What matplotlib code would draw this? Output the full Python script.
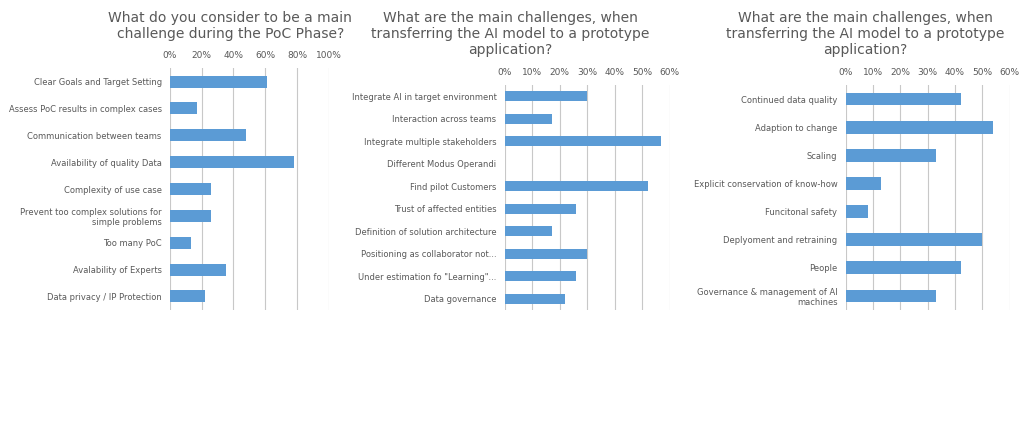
import matplotlib.pyplot as plt
import numpy as np

# Chart 1: PoC phase challenges
poc_labels = ['Clear Goals and Target Setting', 'Assess PoC results in complex cases',
              'Communication between teams', 'Availability of quality Data',
              'Complexity of use case', 'Prevent too complex solutions for\nsimple problems',
              'Too many PoC', 'Avalability of Experts', 'Data privacy / IP Protection']
poc_values = [61, 17, 48, 78, 26, 26, 13, 35, 22]

# Chart 2: transfer challenges
transfer_labels = ['Integrate AI in target environment', 'Interaction across teams',
                   'Integrate multiple stakeholders', 'Different Modus Operandi',
                   'Find pilot Customers', 'Trust of affected entities',
                   'Definition of solution architecture', 'Positioning as collaborator not...',
                   'Under estimation fo "Learning"...', 'Data governance']
transfer_values = [30, 17, 57, 0, 52, 26, 17, 30, 26, 22]

# Chart 3: prototype challenges
proto_labels = ['Continued data quality', 'Adaption to change', 'Scaling',
                'Explicit conservation of know-how', 'Funcitonal safety',
                'Deplyoment and retraining', 'People',
                'Governance & management of AI\nmachines']
proto_values = [42, 54, 33, 13, 8, 50, 42, 33]

titles = ['What do you consider to be a main\nchallenge during the PoC Phase?',
          'What are the main challenges, when\ntransferring the AI model to a prototype\napplication?',
          'What are the main challenges, when\ntransferring the AI model to a prototype\napplication?']

fig = plt.figure(figsize=(10.24, 4.34), dpi=100)
txt = '#595959'
bar_color = '#5b9bd5'

panels = [
    (poc_labels, poc_values, [0.166, 0.286, 0.155, 0.557], 100, 20),
    (transfer_labels, transfer_values, [0.493, 0.286, 0.161, 0.518], 60, 10),
    (proto_labels, proto_values, [0.826, 0.286, 0.160, 0.518], 60, 10),
]
title_x = [0.225, 0.498, 0.845]

for (labels, values, rect, xmax, step), title, tx in zip(panels, titles, title_x):
    ax = fig.add_axes(rect)
    y = np.arange(len(labels))
    ax.barh(y, values, height=0.45, color=bar_color)
    ax.set_yticks(y)
    ax.set_yticklabels(labels, fontsize=6, color=txt)
    ax.set_ylim(len(labels) - 0.5, -0.5)
    ax.set_xlim(0, xmax)
    ticks = np.arange(0, xmax + 1, step)
    ax.set_xticks(ticks)
    ax.set_xticklabels([f'{t}%' for t in ticks], fontsize=6.5, color=txt)
    ax.xaxis.tick_top()
    ax.tick_params(length=0, pad=6)
    ax.grid(axis='x', color='#c8c8c8', linewidth=0.8)
    ax.set_axisbelow(True)
    for s in ax.spines.values():
        s.set_visible(False)
    fig.text(tx, 0.975, title, ha='center', va='top', fontsize=10, color=txt)

fig.savefig('out.png', dpi=100, facecolor='white')
